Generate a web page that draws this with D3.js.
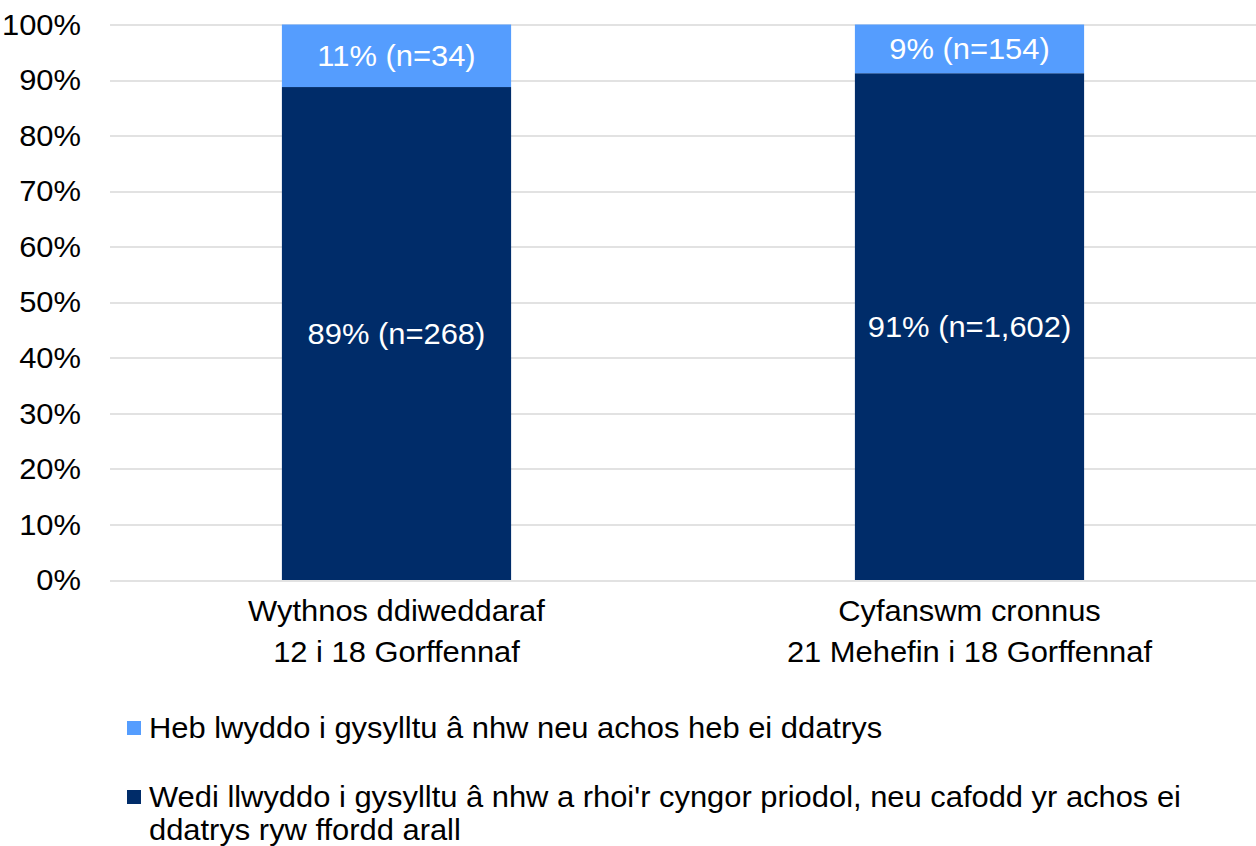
<!DOCTYPE html>
<html>
<head>
<meta charset="utf-8">
<script src="https://cdn.jsdelivr.net/npm/d3@7"></script>
<style>
  body { margin: 0; background: #fff; }
  text { font-family: "Liberation Sans", Arial, sans-serif; }
</style>
</head>
<body>
<svg id="chart" width="1256" height="846"></svg>
<script>
const categories = [
  ["Wythnos ddiweddaraf", "12 i 18 Gorffennaf"],
  ["Cyfanswm cronnus", "21 Mehefin i 18 Gorffennaf"]
];
const seriesNames = [
  "Wedi llwyddo i gysylltu â nhw a rhoi'r cyngor priodol, neu cafodd yr achos ei ddatrys ryw ffordd arall",
  "Heb lwyddo i gysylltu â nhw neu achos heb ei ddatrys"
];
const resolvedCounts = [268, 1602];
const unresolvedCounts = [34, 154];
const resolvedLabels = ["89% (n=268)", "91% (n=1,602)"];
const unresolvedLabels = ["11% (n=34)", "9% (n=154)"];
const yTicks = [0, 0.1, 0.2, 0.3, 0.4, 0.5, 0.6, 0.7, 0.8, 0.9, 1];
const colors = ["#002c69", "#559dfe"];

const margin = { top: 24.5, right: 0, bottom: 266, left: 110 };
const width = 1256 - margin.left - margin.right;
const height = 846 - margin.top - margin.bottom;
const fontSize = 29;
const stretch = 1.065; // reference glyphs are a bit wider than Liberation Sans

const svg = d3.select("#chart");
const g = svg.append("g").attr("transform", `translate(${margin.left},${margin.top})`);

const x = d3.scaleBand().domain(d3.range(categories.length)).range([0, width]).paddingInner(0).paddingOuter(0);
const y = d3.scaleLinear().domain([0, 1]).range([height, 0]);
const barW = x.bandwidth() * 0.4;

// gridlines
g.append("g")
  .selectAll("line")
  .data(yTicks)
  .enter()
  .append("line")
  .attr("x1", 0)
  .attr("x2", width)
  .attr("y1", (d) => Math.round(y(d)) + 0.5)
  .attr("y2", (d) => Math.round(y(d)) + 0.5)
  .attr("stroke", "#d9d9d9")
  .attr("stroke-width", 1.5);

// y axis labels
g.append("g")
  .selectAll("text")
  .data(yTicks)
  .enter()
  .append("text")
  .attr("x", -29)
  .attr("y", (d) => y(d))
  .attr("dy", "0.35em")
  .attr("text-anchor", "end")
  .attr("font-size", fontSize)
  .attr("fill", "#000")
  .text(d3.format(".0%"));

const rows = categories.map((c, i) => {
  const total = resolvedCounts[i] + unresolvedCounts[i];
  return { i, a: resolvedCounts[i] / total, b: unresolvedCounts[i] / total };
});

const bars = g.selectAll(".bar").data(rows).enter().append("g").attr("class", "bar");

bars.append("rect")
  .attr("x", (d) => x(d.i) + (x.bandwidth() - barW) / 2)
  .attr("y", (d) => y(d.a))
  .attr("width", barW)
  .attr("height", (d) => y(0) - y(d.a))
  .attr("fill", colors[0]);

bars.append("rect")
  .attr("x", (d) => x(d.i) + (x.bandwidth() - barW) / 2)
  .attr("y", (d) => y(d.a + d.b))
  .attr("width", barW)
  .attr("height", (d) => y(d.a) - y(d.a + d.b))
  .attr("fill", colors[1]);

bars.append("text")
  .attr("x", (d) => x(d.i) + x.bandwidth() / 2)
  .attr("y", (d) => y(d.a / 2))
  .attr("dy", "0.35em")
  .attr("text-anchor", "middle")
  .attr("font-size", fontSize)
  .attr("fill", "#fff")
  .text((d) => resolvedLabels[d.i]);

bars.append("text")
  .attr("x", (d) => x(d.i) + x.bandwidth() / 2)
  .attr("y", (d) => y(d.a + d.b / 2))
  .attr("dy", "0.35em")
  .attr("text-anchor", "middle")
  .attr("font-size", fontSize)
  .attr("fill", "#fff")
  .text((d) => unresolvedLabels[d.i]);

// category labels
const cat = g.append("g")
  .selectAll("text")
  .data(categories)
  .enter()
  .append("text")
  .attr("x", (d, i) => x(i) + x.bandwidth() / 2)
  .attr("y", height + 41)
  .attr("text-anchor", "middle")
  .attr("font-size", fontSize)
  .attr("fill", "#000");
cat.selectAll("tspan")
  .data((d) => d)
  .enter()
  .append("tspan")
  .attr("x", function () { return d3.select(this.parentNode).attr("x"); })
  .attr("dy", (d, j) => (j === 0 ? "0" : "1.4em"))
  .text((d) => d);

// legend
const legendItems = [
  { color: colors[1], lines: [seriesNames[1]], y: 728 },
  { color: colors[0], lines: ["Wedi llwyddo i gysylltu â nhw a rhoi'r cyngor priodol, neu cafodd yr achos ei", "ddatrys ryw ffordd arall"], y: 797 }
];
const legend = svg.append("g");
legendItems.forEach((item) => {
  legend.append("rect")
    .attr("x", 127)
    .attr("y", item.y - 7)
    .attr("width", 14)
    .attr("height", 14)
    .attr("fill", item.color);
  const t = legend.append("text")
    .attr("x", 149)
    .attr("y", item.y)
    .attr("font-size", fontSize)
    .attr("fill", "#000");
  item.lines.forEach((l, j) => {
    t.append("tspan")
      .attr("x", 149)
      .attr("dy", j === 0 ? "0.35em" : "1.14em")
      .text(l);
  });
});

// widen glyphs a little to match the reference
svg.selectAll("text").each(function () {
  const spans = d3.select(this).selectAll("tspan");
  const targets = spans.empty() ? [this] : spans.nodes();
  targets.forEach((n) => {
    const w = n.getComputedTextLength();
    d3.select(n).attr("textLength", w * stretch).attr("lengthAdjust", "spacingAndGlyphs");
  });
});
</script>
</body>
</html>
